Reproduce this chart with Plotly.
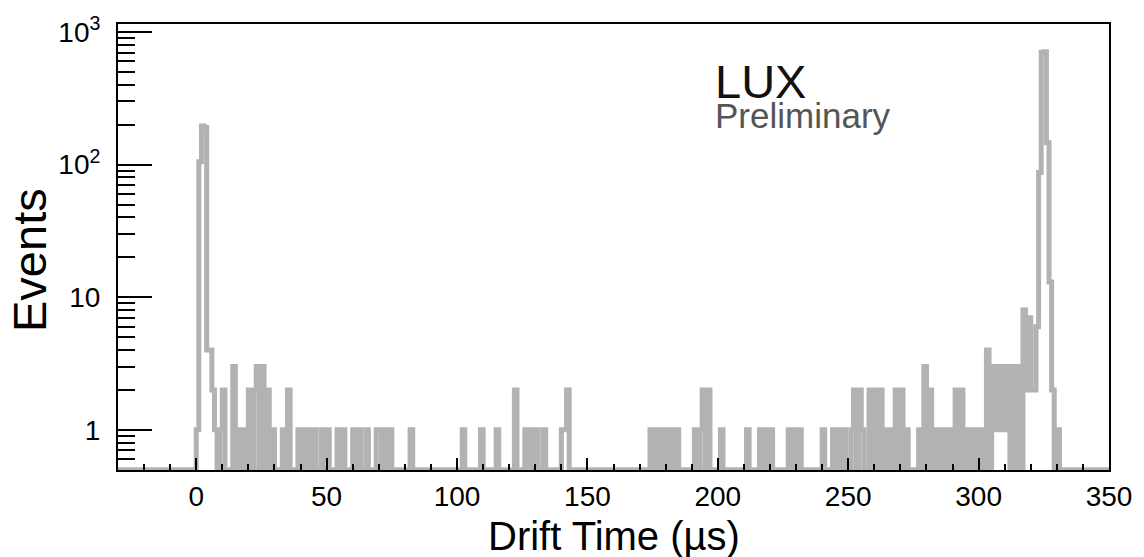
import numpy as np
import plotly.graph_objects as go

# ---- data: 1-us bins from -30 to 350 us, only non-empty bins listed ----
bin_start = [0, 1, 2, 3, 4, 5, 6, 7, 9, 10, 14, 16, 18, 20, 22, 23, 25, 27, 29, 33, 35,
             39, 41, 43, 45, 48, 50, 54, 56, 60, 62, 65, 69, 70, 72, 74, 82,
             102, 109, 115, 122, 126, 128, 130, 133, 140, 141, 142,
             174, 176, 178, 180, 182, 184, 191, 193, 194, 196, 201, 211, 216, 218, 220,
             227, 229, 231, 240, 244, 246, 248, 251, 252, 254, 255, 258, 260, 262, 264,
             266, 268, 270, 272, 277, 279, 281, 283, 285, 287, 289, 291, 293, 295, 297,
             299, 301, 303, 305, 306, 307, 308, 309, 310, 311, 313, 315, 317, 318, 319,
             320, 321, 322, 323, 324, 325, 326, 327, 328, 330]
counts = [1, 105, 195, 190, 4, 4, 2, 1, 1, 2, 3, 1, 1, 2, 2, 3, 3, 2, 1, 1, 2,
          1, 1, 1, 1, 1, 1, 1, 1, 1, 1, 1, 1, 1, 1, 1, 1,
          1, 1, 1, 2, 1, 1, 1, 1, 1, 1, 2,
          1, 1, 1, 1, 1, 1, 1, 1, 2, 2, 1, 1, 1, 1, 1,
          1, 1, 1, 1, 1, 1, 1, 1, 2, 2, 1, 2, 2, 2, 1,
          1, 2, 2, 1, 1, 3, 2, 1, 1, 1, 1, 2, 2, 1, 1,
          1, 1, 4, 3, 1, 3, 1, 3, 1, 3, 3, 3, 8, 2, 7,
          2, 2, 6, 87, 700, 710, 146, 13, 2, 1]
hist_lo, hist_hi = -30, 350

x_tick_vals = [0, 50, 100, 150, 200, 250, 300, 350]
y_tick_vals = [1, 10, 100, 1000]
y_tick_text = ["1", "10", "10<sup>2</sup>", "10<sup>3</sup>"]
y_minor_vals = [0.6, 0.7, 0.8, 0.9, 2, 3, 4, 5, 6, 7, 8, 9,
                20, 30, 40, 50, 60, 70, 80, 90, 200, 300, 400, 500, 600, 700, 800, 900]

# ---- build full histogram ----
edges = np.arange(hist_lo, hist_hi + 1)
full = np.zeros(len(edges) - 1)
for b, c in zip(bin_start, counts):
    full[b - hist_lo] = c
ymin = 0.498
zero_level = 0.5
yplot = np.where(full > 0, full, zero_level)
ystep = np.append(yplot, yplot[-1])

fig = go.Figure()
fig.add_trace(go.Scatter(
    x=edges, y=ystep, mode="lines", line_shape="hv",
    line=dict(color="#b2b2b2", width=5), hoverinfo="skip", showlegend=False))

font_family = "Liberation Sans, Arial, Helvetica, sans-serif"

fig.update_layout(
    width=1144, height=557,
    margin=dict(l=118, r=28, t=18, b=87),
    paper_bgcolor="white", plot_bgcolor="white",
    font=dict(family=font_family, color="black"),
    showlegend=False,
)
fig.update_xaxes(
    range=[hist_lo, hist_hi], tickvals=x_tick_vals,
    ticks="inside", ticklen=12, tickwidth=2, tickcolor="black",
    minor=dict(ticks="inside", ticklen=6, tickwidth=2, tickcolor="black", dtick=10, tick0=0, showgrid=False),
    showline=True, linewidth=2, linecolor="black", mirror=True,
    showgrid=False, zeroline=False,
    tickfont=dict(size=28, family=font_family),
)
fig.update_yaxes(
    type="log", range=[np.log10(ymin), 3.06],
    tickvals=y_tick_vals, ticktext=y_tick_text,
    ticks="inside", ticklen=34, tickwidth=2, tickcolor="black",
    minor=dict(ticks="inside", ticklen=17, tickwidth=2, tickcolor="black",
               tickvals=y_minor_vals, showgrid=False),
    showline=True, linewidth=2, linecolor="black", mirror=True,
    showgrid=False, zeroline=False, ticklabelstandoff=10,
    tickfont=dict(size=28, family=font_family),
)

fig.add_annotation(text="Drift Time (\u00b5s)", xref="paper", yref="paper", x=0.5, y=0,
                   xanchor="center", yanchor="middle", yshift=-66, showarrow=False,
                   font=dict(size=40, family=font_family, color="black"))
fig.add_annotation(text="Events", xref="paper", yref="paper", x=0, y=0.5,
                   xanchor="center", yanchor="middle", xshift=-89, yshift=-13, textangle=-90,
                   showarrow=False, font=dict(size=47, family=font_family, color="black"))
fig.add_annotation(text="LUX", xref="paper", yref="paper", x=0.6, y=0.872,
                   xanchor="left", yanchor="middle", showarrow=False,
                   font=dict(size=47, family=font_family, color="#111111"))
fig.add_annotation(text="Preliminary", xref="paper", yref="paper", x=0.6, y=0.794,
                   xanchor="left", yanchor="middle", showarrow=False,
                   font=dict(size=35, family=font_family, color="#555555"))

fig.write_html("out.html")
